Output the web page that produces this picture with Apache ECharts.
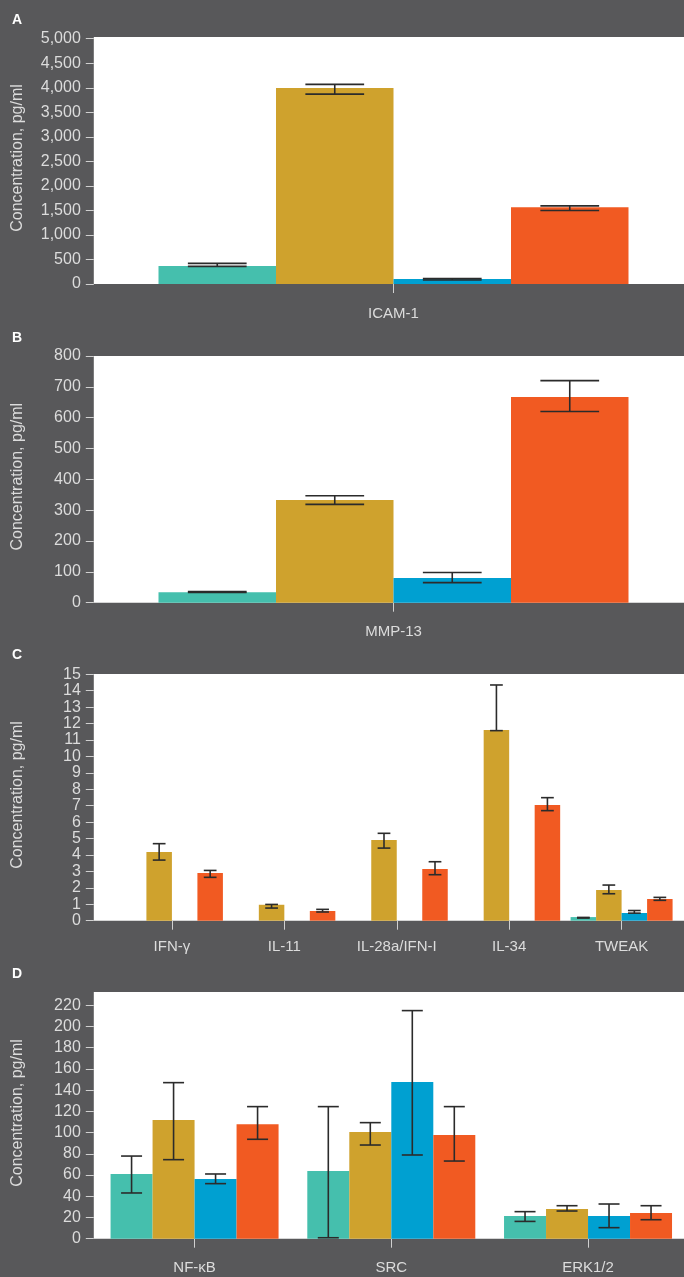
<!DOCTYPE html>
<html>
<head>
<meta charset="utf-8">
<script src="https://cdn.jsdelivr.net/npm/echarts@6/dist/echarts.min.js"></script>
<style>
html,body{margin:0;padding:0;background:#58585a;}
#chart{width:684px;height:1277px;}
</style>
</head>
<body>
<div id="chart"></div>
<script>
// ---------- DATA ----------
const groupNames = ['Group 1', 'Group 2', 'Group 3', 'Group 4'];
const groupColors = ['#45bfad', '#cfa22d', '#00a0d1', '#f15a22'];

// Panel A
const catsA = ['ICAM-1'];
const valsA_1 = [367];  const lowA_1 = [360];  const highA_1 = [421];
const valsA_2 = [3993]; const lowA_2 = [3871]; const highA_2 = [4068];
const valsA_3 = [100];  const lowA_3 = [82];   const highA_3 = [109];
const valsA_4 = [1565]; const lowA_4 = [1497]; const highA_4 = [1592];
const ticksA = {min: 0, max: 5000, interval: 500};

// Panel B
const catsB = ['MMP-13'];
const valsB_1 = [34];  const lowB_1 = [33];  const highB_1 = [36];
const valsB_2 = [333]; const lowB_2 = [319]; const highB_2 = [347];
const valsB_3 = [80];  const lowB_3 = [65];  const highB_3 = [98];
const valsB_4 = [667]; const lowB_4 = [620]; const highB_4 = [720];
const ticksB = {min: 0, max: 800, interval: 100};

// Panel C
const catsC = ['IFN-\u03b3', 'IL-11', 'IL-28a/IFN-I', 'IL-34', 'TWEAK'];
const valsC_1 = [null, null, null, null, 0.22]; const lowC_1 = [null, null, null, null, 0.16]; const highC_1 = [null, null, null, null, 0.20];
const valsC_2 = [4.18, 0.97, 4.91, 11.61, 1.87]; const lowC_2 = [3.69, 0.77, 4.42, 11.57, 1.64]; const highC_2 = [4.69, 0.99, 5.32, 14.35, 2.17];
const valsC_3 = [null, null, null, null, 0.47]; const lowC_3 = [null, null, null, null, 0.46]; const highC_3 = [null, null, null, null, 0.62];
const valsC_4 = [2.90, 0.59, 3.15, 7.04, 1.32]; const lowC_4 = [2.64, 0.53, 2.80, 6.70, 1.24]; const highC_4 = [3.06, 0.69, 3.59, 7.49, 1.42];
const ticksC = {min: 0, max: 15, interval: 1};

// Panel D
const catsD = ['NF-\u03baB', 'SRC', 'ERK1/2'];
const valsD_1 = [61.0, 63.8, 21.4];   const lowD_1 = [43.1, 0.9, 16.3];   const highD_1 = [77.9, 124.5, 25.5];
const valsD_2 = [111.9, 100.6, 28.0]; const lowD_2 = [74.5, 88.3, 26.1];  const highD_2 = [147.1, 109.4, 31.1];
const valsD_3 = [56.3, 147.7, 21.4];  const lowD_3 = [51.9, 78.9, 10.4];  const highD_3 = [61.0, 215.0, 32.7];
const valsD_4 = [107.8, 97.7, 24.2];  const lowD_4 = [93.7, 73.2, 17.9];  const highD_4 = [124.5, 124.5, 31.1];
const ticksD = {min: 0, max: 220, interval: 20};

const panelLetters = ['A', 'B', 'C', 'D'];
const yAxisTitle = 'Concentration, pg/ml';

// ---------- LAYOUT / STYLE ----------
const panels = [
  {cats: catsA, vals: [valsA_1, valsA_2, valsA_3, valsA_4], low: [lowA_1, lowA_2, lowA_3, lowA_4], high: [highA_1, highA_2, highA_3, highA_4], ticks: ticksA,
   grid: {left: 93.8, top: 38.7, width: 599.4, height: 245.3}, yOffset: 0, barWidth: 117.5, labelMargin: 22,
   white: [37, 284], letterY: 20, titleY: 158},
  {cats: catsB, vals: [valsB_1, valsB_2, valsB_3, valsB_4], low: [lowB_1, lowB_2, lowB_3, lowB_4], high: [highB_1, highB_2, highB_3, highB_4], ticks: ticksB,
   grid: {left: 93.8, top: 356, width: 599.4, height: 246.7}, yOffset: 0, barWidth: 117.5, labelMargin: 22,
   white: [356, 602.7], letterY: 337.7, titleY: 476.7},
  {cats: catsC, vals: [valsC_1, valsC_2, valsC_3, valsC_4], low: [lowC_1, lowC_2, lowC_3, lowC_4], high: [highC_1, highC_2, highC_3, highC_4], ticks: ticksC,
   grid: {left: 115.7, top: 674.3, width: 562.1, height: 246.4}, yOffset: 21.9, barWidth: 25.5, labelMargin: 19,
   white: [674, 920.7], letterY: 655.3, titleY: 795},
  {cats: catsD, vals: [valsD_1, valsD_2, valsD_3, valsD_4], low: [lowD_1, lowD_2, lowD_3, lowD_4], high: [highD_1, highD_2, highD_3, highD_4], ticks: ticksD,
   grid: {left: 96.2, top: 1005.3, width: 590.2, height: 233.4}, yOffset: 2.4, barWidth: 42, labelMargin: 22,
   white: [992, 1238.7], letterY: 973.7, titleY: 1113}
];

const FONT = '"Liberation Sans", Arial, Helvetica, sans-serif';
const textColor = '#dcdcdc';
const tickColor = '#d0d0d0';

const grids = [], xAxes = [], yAxes = [], series = [], graphics = [];

panels.forEach((p, i) => {
  grids.push(Object.assign({containLabel: false, outerBoundsMode: 'none'}, p.grid));
  xAxes.push({
    type: 'category', gridIndex: i, data: p.cats,
    axisLine: {show: false},
    axisTick: {show: true, alignWithLabel: true, interval: 0, length: 9, lineStyle: {color: tickColor, width: 1}},
    axisLabel: {color: textColor, fontSize: 15, fontFamily: FONT, margin: p.labelMargin, interval: 0},
    splitLine: {show: false}
  });
  yAxes.push({
    type: 'value', gridIndex: i, min: p.ticks.min, max: p.ticks.max, interval: p.ticks.interval,
    offset: p.yOffset,
    axisLine: {show: false},
    axisTick: {show: true, length: 8, lineStyle: {color: tickColor, width: 1}},
    axisLabel: {color: textColor, fontSize: 16, fontFamily: FONT, margin: 13},
    splitLine: {show: false}
  });
  // white plot background
  graphics.push({type: 'rect', z: 0, silent: true,
    shape: {x: 93.8, y: p.white[0], width: 684 - 93.8, height: p.white[1] - p.white[0]},
    style: {fill: '#ffffff'}});
  graphics.push({type: 'text', z: 10, x: 12, y: p.letterY,
    style: {text: panelLetters[i], fill: '#ffffff', font: 'bold 14px ' + FONT, align: 'left', verticalAlign: 'middle'}});
  graphics.push({type: 'text', z: 10, x: 17.4, y: p.titleY, rotation: Math.PI / 2,
    style: {text: yAxisTitle, fill: textColor, font: '16px ' + FONT, align: 'center', verticalAlign: 'middle'}});

  for (let g = 0; g < 4; g++) {
    series.push({
      type: 'bar', name: groupNames[g], xAxisIndex: i, yAxisIndex: i,
      data: p.vals[g], barWidth: p.barWidth, barGap: '0%',
      itemStyle: {color: groupColors[g]}, z: 2, silent: true
    });
  }
  const errData = [];
  for (let g = 0; g < 4; g++) {
    p.cats.forEach((c, ci) => {
      if (p.low[g][ci] != null && p.high[g][ci] != null) errData.push([ci, p.low[g][ci], p.high[g][ci], g]);
    });
  }
  const bw = p.barWidth;
  series.push({
    type: 'custom', xAxisIndex: i, yAxisIndex: i, z: 5, silent: true,
    data: errData,
    encode: {x: 0, y: [1, 2]},
    renderItem: function (params, api) {
      const ci = api.value(0), lo = api.value(1), hi = api.value(2), g = api.value(3);
      const cx = api.coord([ci, 0])[0] + (g - 1.5) * bw;
      const yLo = api.coord([ci, lo])[1];
      const yHi = api.coord([ci, hi])[1];
      const half = bw / 4;
      const st = {stroke: '#2b2b2b', lineWidth: 1.6};
      return {type: 'group', children: [
        {type: 'line', shape: {x1: cx, y1: yLo, x2: cx, y2: yHi}, style: st},
        {type: 'line', shape: {x1: cx - half, y1: yHi, x2: cx + half, y2: yHi}, style: st},
        {type: 'line', shape: {x1: cx - half, y1: yLo, x2: cx + half, y2: yLo}, style: st}
      ]};
    }
  });
});

const chart = echarts.init(document.getElementById('chart'), null, {renderer: 'canvas', width: 684, height: 1277});
chart.setOption({
  backgroundColor: '#58585a',
  animation: false,
  grid: grids, xAxis: xAxes, yAxis: yAxes, series: series,
  graphic: {elements: graphics}
});
</script>
</body>
</html>
